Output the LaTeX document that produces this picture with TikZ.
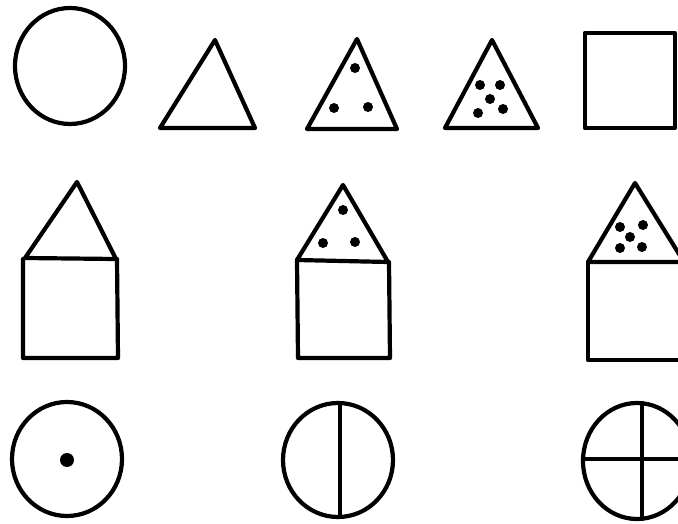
\documentclass[tikz,border=0pt]{standalone}
\usepackage{tikz}
\tikzset{
  figura/.style={
    draw=black,
    line width=4.2pt,
    line join=round,
    line cap=round
  },
  punto/.style={
    fill=black
  }
}

\begin{document}
\begin{tikzpicture}[x=1pt,y=-1pt]
\useasboundingbox (0,0) rectangle (678,524);
\clip (0,0) rectangle (678,524);
% fila 1
\draw[figura] (70,66) ellipse [x radius=55, y radius=58];
\draw[figura] (215,40) -- (160,128) -- (255,128) -- cycle;
\draw[figura] (357,39) -- (307,129) -- (397,129) -- cycle;
\foreach \p in {(355,68),(334,108),(368,107)}
  \fill[punto] \p circle (5);
\draw[figura] (492,40) -- (445,128) -- (538,128) -- cycle;
\foreach \p in {(480,85),(500,85),(490,99),(478,113),(503,109)}
  \fill[punto] \p circle (5);
\draw[figura] (585,33) rectangle (675,128);
% fila 2
\draw[figura] (77,182) -- (25,258) -- (116,259) -- cycle;
\draw[figura] (23,259) -- (23,358) -- (118,358) -- (117,259);
\draw[figura] (343,185) -- (297,260) -- (388,262) -- cycle;
\draw[figura] (297,260) -- (298,358) -- (390,358) -- (389,262);
\foreach \p in {(343,210),(323,243),(355,242)}
  \fill[punto] \p circle (5);
\draw[figura] (635,183) -- (588,262) -- (684,262) -- cycle;
\draw[figura] (588,262) -- (588,360) -- (684,360);
\foreach \p in {(620,227),(643,225),(630,237),(620,248),(642,247)}
  \fill[punto] \p circle (5);
% fila 3
\draw[figura] (67,459) ellipse [x radius=55, y radius=57];
\fill[punto] (67,460) circle (7);
\draw[figura] (338,460) ellipse [x radius=55, y radius=57];
\draw[figura] (340,403) -- (340,517);
\draw[figura] (637,461) ellipse [x radius=54, y radius=58];
\draw[figura] (642,403) -- (642,519);
\draw[figura] (583,459) -- (691,459);
\end{tikzpicture}
\end{document}
